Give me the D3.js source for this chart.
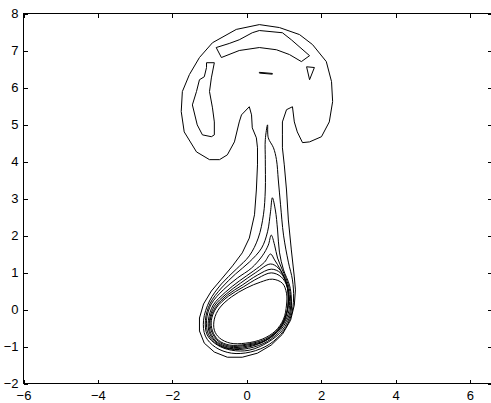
<!DOCTYPE html>
<html>
<head>
<meta charset="utf-8">
<script src="https://cdn.jsdelivr.net/npm/d3@7"></script>
<style>
body { margin: 0; background: #fff; }
text { font-family: "Liberation Sans", Arial, Helvetica, sans-serif; font-size: 13px; fill: #000; }
</style>
</head>
<body>
<div id="chart"></div>
<script>
// tick values of the axes
var xTicks = [-6, -4, -2, 0, 2, 4, 6];
var yTicks = [-2, -1, 0, 1, 2, 3, 4, 5, 6, 7, 8];

// contour lines, [x, y] in data units
// outermost level: cap, stem and the outer ring of the loop
var capOuter = [[0.34,7.70],[0.88,7.62],[1.42,7.43],[1.77,7.16],[2.14,6.70],[2.28,6.16],[2.31,5.62],[2.22,5.07],
  [2.01,4.67],[1.69,4.53],[1.50,4.51],[1.36,4.80],[1.28,5.07],[1.23,5.48],[1.07,5.40],[0.96,5.07],[0.96,4.72],
  [0.96,4.37],[1.01,3.91],[1.07,3.23],[1.12,2.42],[1.20,1.61],[1.28,0.88],[1.31,0.53],[1.28,0.12],[1.18,-0.29],
  [0.96,-0.67],[0.66,-0.96],[0.29,-1.18],[-0.12,-1.29],[-0.52,-1.29],[-0.87,-1.15],[-1.14,-0.91],[-1.27,-0.58],
  [-1.27,-0.23],[-1.16,0.15],[-0.95,0.50],[-0.68,0.82],[-0.38,1.18],[-0.12,1.53],[0.07,1.93],[0.21,2.56],
  [0.26,3.23],[0.29,3.91],[0.29,4.37],[0.26,4.64],[0.15,4.91],[0.13,5.26],[0.07,5.48],[-0.14,5.26],[-0.20,5.07],
  [-0.33,4.53],[-0.52,4.18],[-0.73,4.05],[-1.00,4.05],[-1.35,4.26],[-1.68,4.80],[-1.76,5.35],[-1.73,5.89],
  [-1.54,6.35],[-1.27,6.81],[-0.92,7.21],[-0.28,7.57]];
var capBand = [[-0.82,7.08],[-0.68,6.81],[-0.20,7.00],[0.34,7.08],[0.80,7.02],[1.15,6.89],[1.47,6.70],[1.69,6.86],
  [1.20,7.29],[0.96,7.48],[0.34,7.54],[0.15,7.48],[-0.20,7.29],[-0.47,7.19]];
var capBlob = [[-1.08,6.67],[-0.87,6.67],[-0.95,6.26],[-1.00,5.89],[-0.92,5.45],[-0.87,5.07],[-0.87,4.72],
  [-0.95,4.67],[-1.19,4.72],[-1.33,4.99],[-1.46,5.53],[-1.35,5.89],[-1.27,6.21],[-1.14,6.29],[-1.08,6.54]];
var capTriangle = [[1.61,6.56],[1.82,6.54],[1.69,6.21]];
var capDash = [[0.34,6.41],[0.69,6.38],[0.69,6.36],[0.34,6.39]];

// inner levels around the loop, from outside to inside
var ring2 = [[0.56,4.99],[0.58,4.64],[0.72,4.37],[0.80,4.05],[0.85,3.50],[0.91,2.83],[0.99,2.01],[1.12,1.28],
  [1.23,0.80],[1.26,0.31],[1.20,-0.15],[0.99,-0.58],[0.61,-0.94],[0.10,-1.15],[-0.41,-1.18],[-0.84,-1.02],
  [-1.11,-0.72],[-1.16,-0.29],[-1.00,0.23],[-0.68,0.69],[-0.28,1.09],[0.07,1.45],[0.31,1.93],[0.45,2.56],
  [0.50,3.23],[0.50,4.05],[0.50,4.59]];
var ring3 = [[0.69,3.02],[0.77,2.69],[0.83,2.15],[0.88,1.55],[0.99,1.07],[1.15,0.66],[1.20,0.31],[1.18,-0.12],
  [0.96,-0.56],[0.58,-0.88],[0.07,-1.10],[-0.41,-1.10],[-0.79,-0.96],[-1.06,-0.69],[-1.11,-0.29],[-0.98,0.17],
  [-0.68,0.58],[-0.30,0.96],[0.07,1.28],[0.40,1.66],[0.56,2.10],[0.64,2.64]];
var ring4 = [[0.66,2.01],[0.75,1.74],[0.83,1.39],[0.96,1.07],[1.12,0.66],[1.18,0.31],[1.15,-0.12],[0.93,-0.53],
  [0.56,-0.86],[0.05,-1.05],[-0.44,-1.07],[-0.79,-0.94],[-1.03,-0.67],[-1.08,-0.29],[-0.95,0.15],[-0.63,0.53],
  [-0.25,0.85],[0.13,1.12],[0.42,1.45],[0.58,1.74]];
var ring5 = [[0.64,1.50],[0.75,1.34],[0.91,1.07],[1.09,0.66],[1.15,0.31],[1.12,-0.10],[0.91,-0.50],[0.53,-0.83],
  [0.02,-1.02],[-0.47,-1.05],[-0.79,-0.91],[-1.00,-0.64],[-1.03,-0.29],[-0.90,0.12],[-0.57,0.47],[-0.20,0.77],
  [0.18,1.04],[0.48,1.28]];
var ring6 = [[0.64,1.23],[0.85,1.12],[1.04,0.80],[1.12,0.34],[1.09,-0.07],[0.91,-0.50],[0.53,-0.83],[0.02,-0.99],
  [-0.47,-1.02],[-0.79,-0.88],[-0.98,-0.61],[-1.00,-0.29],[-0.87,0.09],[-0.55,0.42],[-0.17,0.71],[0.23,0.99]];
var ring7 = [[0.66,1.09],[0.91,0.99],[1.07,0.69],[1.12,0.31],[1.07,-0.10],[0.88,-0.50],[0.50,-0.83],[0.02,-0.96],
  [-0.47,-0.99],[-0.76,-0.86],[-0.95,-0.58],[-0.98,-0.29],[-0.84,0.06],[-0.52,0.39],[-0.12,0.66],[0.29,0.93]];
var ring8 = [[0.66,0.99],[0.93,0.88],[1.09,0.61],[1.12,0.28],[1.07,-0.10],[0.88,-0.50],[0.50,-0.80],[-0.01,-0.94],
  [-0.47,-0.96],[-0.76,-0.83],[-0.92,-0.58],[-0.95,-0.29],[-0.82,0.04],[-0.49,0.36],[-0.09,0.61],[0.31,0.85]];
var ringInner = [[0.69,0.82],[0.96,0.71],[1.07,0.44],[1.07,0.12],[0.99,-0.26],[0.77,-0.58],[0.42,-0.80],[-0.03,-0.91],
  [-0.44,-0.91],[-0.73,-0.77],[-0.87,-0.56],[-0.87,-0.26],[-0.73,0.04],[-0.41,0.34],[-0.01,0.58],[0.37,0.74]];

var width = 491, height = 403;
var plotLeft = 23.5, plotTop = 13.5, plotBottom = 383.5;
var unitX = 37.2;

var x = d3.scaleLinear().domain([-6, 6.6]).range([plotLeft, plotLeft + 12.6 * unitX]);
var y = d3.scaleLinear().domain([-2, 8]).range([plotBottom, plotTop]);
var plotRight = x(6.6);

var svg = d3.select("#chart").append("svg")
    .attr("width", width)
    .attr("height", height);

// contours
var straight = d3.line()
    .x(function(d) { return x(d[0]); })
    .y(function(d) { return y(d[1]); })
    .curve(d3.curveLinearClosed);
var smooth = d3.line()
    .x(function(d) { return x(d[0]); })
    .y(function(d) { return y(d[1]); })
    .curve(d3.curveCatmullRomClosed.alpha(0.5));

var lines = svg.append("g")
    .attr("fill", "none")
    .attr("stroke", "#000")
    .attr("stroke-width", 1);

lines.selectAll(".cap")
    .data([capOuter, capBand, capBlob, capTriangle, capDash])
  .enter().append("path")
    .attr("class", "cap")
    .attr("d", straight);

lines.selectAll(".ring")
    .data([ring2, ring3, ring4, ring5, ring6, ring7, ring8, ringInner])
  .enter().append("path")
    .attr("class", "ring")
    .attr("d", smooth);

// axes box, ticks inward on all four sides
var fmt = function(d) { return d3.format("")(d); };

var gB = svg.append("g").attr("transform", "translate(0," + plotBottom + ")")
    .call(d3.axisBottom(x).tickValues(xTicks).tickSize(-4).tickSizeOuter(0).tickPadding(7).tickFormat(fmt));
var gL = svg.append("g").attr("transform", "translate(" + plotLeft + ",0)")
    .call(d3.axisLeft(y).tickValues(yTicks).tickSize(-4).tickSizeOuter(0).tickPadding(5).tickFormat(fmt));
var gT = svg.append("g").attr("transform", "translate(0," + plotTop + ")")
    .call(d3.axisTop(x).tickValues(xTicks).tickSize(-4).tickSizeOuter(0).tickFormat(""));
var gR = svg.append("g").attr("transform", "translate(" + plotRight + ",0)")
    .call(d3.axisRight(y).tickValues(yTicks).tickSize(-4).tickSizeOuter(0).tickFormat(""));

[gB, gL, gT, gR].forEach(function(g) {
  g.select(".domain").remove();
  g.attr("font-size", null).attr("font-family", null);
  g.selectAll("line").attr("stroke", "#000").attr("shape-rendering", "crispEdges");
});

svg.append("rect")
    .attr("x", plotLeft)
    .attr("y", plotTop)
    .attr("width", plotRight - plotLeft)
    .attr("height", plotBottom - plotTop)
    .attr("fill", "none")
    .attr("stroke", "#000")
    .attr("shape-rendering", "crispEdges");
</script>
</body>
</html>
